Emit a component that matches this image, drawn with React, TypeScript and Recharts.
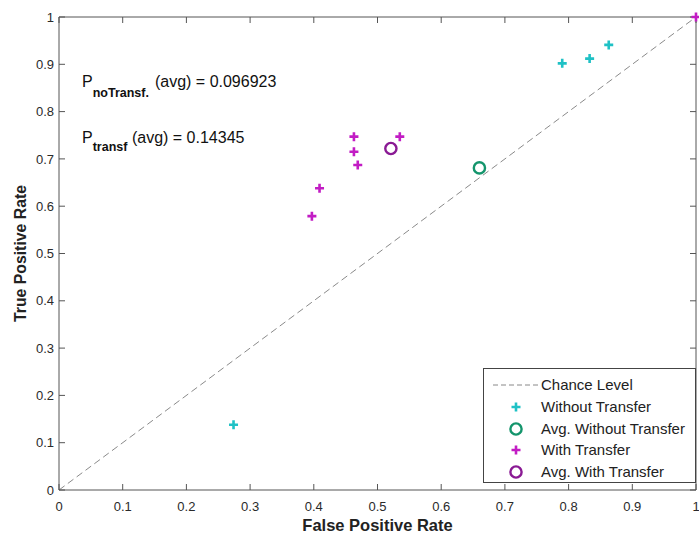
import { ReferenceLine, Scatter, ScatterChart, XAxis, YAxis } from "recharts";

const FONT = '"Liberation Sans", Arial, Helvetica, sans-serif';

// axis ticks (both axes run 0..1)
const tickValues = [0, 0.1, 0.2, 0.3, 0.4, 0.5, 0.6, 0.7, 0.8, 0.9, 1];

// Without Transfer (cyan crosses)
const withoutFpr = [0.274, 0.79, 0.833, 0.863];
const withoutTpr = [0.138, 0.902, 0.912, 0.941];

// With Transfer (magenta crosses)
const withFpr = [0.397, 0.409, 0.463, 0.463, 0.469, 0.535, 1.0];
const withTpr = [0.579, 0.638, 0.715, 0.747, 0.687, 0.747, 1.0];

// averages (rings)
const avgWithoutFpr = [0.66];
const avgWithoutTpr = [0.681];
const avgWithFpr = [0.521];
const avgWithTpr = [0.722];

const chanceFpr = [0, 1];
const chanceTpr = [0, 1];

const legendLabels = [
  "Chance Level",
  "Without Transfer",
  "Avg. Without Transfer",
  "With Transfer",
  "Avg. With Transfer",
];

const pNoTransf = "0.096923";
const pTransf = "0.14345";

const CYAN = "#1fc1c5";
const MAGENTA = "#c21cc4";
const GREEN = "#14956c";
const PURPLE = "#8a1a94";
const AXIS = "#555";

function toPoints(xs: number[], ys: number[]) {
  return xs.map((x, i) => ({ fpr: x, tpr: ys[i] }));
}

function PlusMark({ cx, cy, fill }: { cx?: number; cy?: number; fill?: string }) {
  if (cx == null || cy == null) return null;
  const h = 4.5;
  return (
    <path
      d={`M${cx - h},${cy}H${cx + h}M${cx},${cy - h}V${cy + h}`}
      stroke={fill}
      strokeWidth={2.6}
      fill="none"
    />
  );
}

function RingMark({ cx, cy, fill }: { cx?: number; cy?: number; fill?: string }) {
  if (cx == null || cy == null) return null;
  return <circle cx={cx} cy={cy} r={5.6} fill="none" stroke={fill} strokeWidth={2.4} />;
}

const NoMark = () => <g />;

const tickStyle = { fill: "#2a2a2a", fontSize: 13, fontFamily: FONT };
const titleStyle = { fill: "#222", fontWeight: "bold", fontFamily: FONT };

function Overlay() {
  const rows = [385, 407, 429, 450, 472];
  return (
    <svg
      width={699}
      height={536}
      style={{ position: "absolute", left: 0, top: 0, pointerEvents: "none", fontFamily: FONT }}
    >
      <text x={82} y={87} fontSize={16} fill="#111">
        P
        <tspan fontSize={12.5} fontWeight="bold" dy={9.5}>
          noTransf.
        </tspan>
        <tspan dy={-9.5} dx={6}>
          (avg) = {pNoTransf}
        </tspan>
      </text>
      <text x={82} y={143} fontSize={16} fill="#111">
        P
        <tspan fontSize={12.5} fontWeight="bold" dy={7.5}>
          transf
        </tspan>
        <tspan dy={-7.5} dx={4.5}>
          (avg) = {pTransf}
        </tspan>
      </text>

      <rect x={483.5} y={368.5} width={212} height={114} fill="#fff" stroke="#444" />
      <line x1={493} y1={rows[0]} x2={538} y2={rows[0]} stroke="#888" strokeDasharray="5 3" />
      <PlusMark cx={516} cy={rows[1]} fill={CYAN} />
      <RingMark cx={516} cy={rows[2]} fill={GREEN} />
      <PlusMark cx={516} cy={rows[3]} fill={MAGENTA} />
      <RingMark cx={516} cy={rows[4]} fill={PURPLE} />
      {legendLabels.map((label, i) => (
        <text key={label} x={541} y={rows[i] + 5} fontSize={15} fill="#222">
          {label}
        </text>
      ))}
    </svg>
  );
}

export default function App() {
  const chance = toPoints(chanceFpr, chanceTpr);
  return (
    <div
      style={{
        position: "absolute",
        left: 0,
        top: 0,
        width: 699,
        height: 536,
        background: "#fff",
        fontFamily: FONT,
      }}
    >
      <ScatterChart width={699} height={536} margin={{ top: 17, right: 3, bottom: 0, left: 0 }}>
        <XAxis
          type="number"
          dataKey="fpr"
          domain={[0, 1]}
          ticks={tickValues}
          interval={0}
          tickFormatter={(v: number) => String(v)}
          tickSize={-6}
          tickMargin={18}
          height={46}
          stroke={AXIS}
          tick={tickStyle}
          label={{
            value: "False Positive Rate",
            position: "insideBottom",
            offset: 5,
            style: { ...titleStyle, fontSize: 16.5 },
          }}
        />
        <YAxis
          type="number"
          dataKey="tpr"
          domain={[0, 1]}
          ticks={tickValues}
          interval={0}
          tickFormatter={(v: number) => String(v)}
          tickSize={-6}
          tickMargin={11}
          width={59}
          stroke={AXIS}
          tick={tickStyle}
          label={{
            value: "True Positive Rate",
            angle: -90,
            position: "insideLeft",
            offset: 20,
            style: { ...titleStyle, fontSize: 15.8, textAnchor: "middle" },
          }}
        />
        <XAxis
          xAxisId="top"
          orientation="top"
          type="number"
          dataKey="fpr"
          domain={[0, 1]}
          ticks={tickValues}
          interval={0}
          mirror
          height={1}
          tickFormatter={() => ""}
          tickSize={6}
          stroke={AXIS}
        />
        <YAxis
          yAxisId="right"
          orientation="right"
          type="number"
          dataKey="tpr"
          domain={[0, 1]}
          ticks={tickValues}
          interval={0}
          mirror
          width={1}
          tickFormatter={() => ""}
          tickSize={6}
          stroke={AXIS}
        />
        <ReferenceLine
          segment={[
            { x: chanceFpr[0], y: chanceTpr[0] },
            { x: chanceFpr[1], y: chanceTpr[1] },
          ]}
          stroke="#8a8a8a"
          strokeDasharray="7 4"
        />
        {/* invisible series that binds the frame axes (top/right) */}
        <Scatter
          xAxisId="top"
          yAxisId="right"
          data={chance}
          shape={NoMark}
          legendType="none"
          isAnimationActive={false}
        />
        <Scatter
          name="Without Transfer"
          data={toPoints(withoutFpr, withoutTpr)}
          fill={CYAN}
          shape={PlusMark}
          isAnimationActive={false}
        />
        <Scatter
          name="Avg. Without Transfer"
          data={toPoints(avgWithoutFpr, avgWithoutTpr)}
          fill={GREEN}
          shape={RingMark}
          isAnimationActive={false}
        />
        <Scatter
          name="With Transfer"
          data={toPoints(withFpr, withTpr)}
          fill={MAGENTA}
          shape={PlusMark}
          isAnimationActive={false}
        />
        <Scatter
          name="Avg. With Transfer"
          data={toPoints(avgWithFpr, avgWithTpr)}
          fill={PURPLE}
          shape={RingMark}
          isAnimationActive={false}
        />
      </ScatterChart>
      <Overlay />
    </div>
  );
}
